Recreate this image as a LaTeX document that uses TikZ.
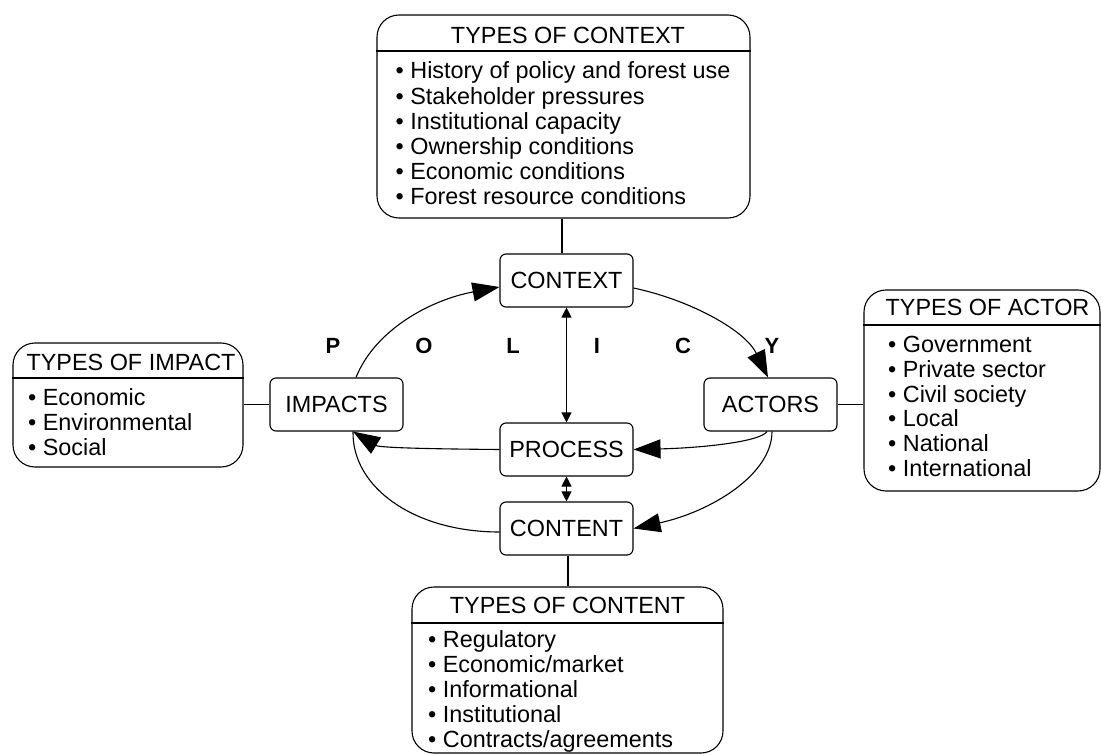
\documentclass[tikz,border=0pt]{standalone}
\usepackage{fontspec}
\setmainfont{Liberation Sans}
\usetikzlibrary{arrows.meta}
\begin{document}
\begin{tikzpicture}[x=1pt,y=-1pt,
  every node/.style={inner sep=0pt, font=\fontsize{23.4}{25}\selectfont},
  bigbox/.style={draw, line width=1.1pt, rounded corners=22pt},
  smallbox/.style={draw, line width=1.1pt, rounded corners=6pt, minimum width=133pt, minimum height=53pt},
  itemtext/.style={anchor=base west},
  headtext/.style={anchor=base},
  conn/.style={line width=1.1pt},
  bigarrow/.style={line width=1.1pt, -{Triangle[length=27pt,width=19pt]}},
  dblarrow/.style={line width=1.1pt, {Triangle[length=10pt,width=10pt]}-{Triangle[length=10pt,width=10pt]}},
  letter/.style={font=\fontsize{22}{26}\selectfont\bfseries}
]
\useasboundingbox (0,0) rectangle (1101,754);

% big boxes
\node[bigbox, minimum width=373pt, minimum height=203pt] (tctx) at (563.5,116.5) {};
\node[bigbox, minimum width=230pt, minimum height=124pt] (timp) at (128,405) {};
\node[bigbox, minimum width=236pt, minimum height=201pt] (tact) at (982,390.5) {};
\node[bigbox, minimum width=311pt, minimum height=166pt] (tcnt) at (567.5,670) {};

\coordinate (hctx) at (0,51);
\coordinate (himp) at (0,378);
\coordinate (hact) at (0,325);
\coordinate (hcnt) at (0,623);
\draw[conn] (tctx.west |- hctx) -- (tctx.east |- hctx);
\draw[conn] (timp.west |- himp) -- (timp.east |- himp);
\draw[conn] (tact.west |- hact) -- (tact.east |- hact);
\draw[conn] (tcnt.west |- hcnt) -- (tcnt.east |- hcnt);

% headers
\node[headtext] (hdctx) at (568,43.3) {TYPES OF CONTEXT};
\node[headtext] (hdimp) at (131,370) {TYPES OF IMPACT};
\node[headtext] (hdact) at (987.5,316) {TYPES OF ACTOR};
\node[headtext] (hdcnt) at (567.5,613.3) {TYPES OF CONTENT};

% items
\foreach \t [count=\i from 0] in {History of policy and forest use, Stakeholder pressures, Institutional capacity, Ownership conditions, Economic conditions, Forest resource conditions}
  \node[itemtext] (ictx\i) at (395.5,79+25.2*\i) {• \t};
\foreach \t [count=\i from 0] in {Economic, Environmental, Social}
  \node[itemtext] (iimp\i) at (28,405+25*\i) {• \t};
\foreach \t [count=\i from 0] in {Government, Private sector, Civil society, Local, National, International}
  \node[itemtext] (iact\i) at (888,352.7+24.7*\i) {• \t};
\foreach \t [count=\i from 0] in {Regulatory, Economic/market, Informational, Institutional, Contracts/agreements}
  \node[itemtext] (icnt\i) at (428,647.3+25.1*\i) {• \t};

% small boxes
\node[smallbox] (ctx) at (566.5,280.5) {CONTEXT};
\node[smallbox] (proc) at (566.5,449.5) {PROCESS};
\node[smallbox] (cont) at (566.5,528.5) {CONTENT};
\node[smallbox] (impacts) at (336.5,404.5) {IMPACTS};
\node[smallbox] (actors) at (770.5,404.5) {ACTORS};

% connecting lines
\draw[conn] ([xshift=-4.5pt]ctx.north) -- ([xshift=-4.5pt]ctx.north |- tctx.south);
\draw[conn] ([xshift=1.5pt]cont.south) -- ([xshift=1.5pt]cont.south |- tcnt.north);
\draw[conn] (impacts.west) -- (impacts.west -| timp.east);
\draw[conn] (actors.east) -- (actors.east -| tact.west);

% cycle arrows
\draw[bigarrow] ([xshift=19.5pt]impacts.north) .. controls (375,330) and (430,300) .. ([yshift=-6.5pt]ctx.west);
\draw[bigarrow] ([yshift=-7.5pt]ctx.east) .. controls (690,300) and (745,330) .. ([xshift=-2.5pt]actors.north);
\draw[bigarrow] ([xshift=-3.5pt]actors.south) .. controls (760,442) and (700,448) .. (proc.east);
\draw[bigarrow] ([xshift=1.5pt]actors.south) .. controls (772,475) and (710,512) .. (cont.east);
\draw[bigarrow] (proc.west) .. controls (440,449) and (380,448) .. ([xshift=16.5pt]impacts.south);
\draw[conn] ([yshift=-3.5pt]cont.west) .. controls (415,532) and (352,488) .. ([xshift=16.5pt]impacts.south);

\draw[dblarrow] (ctx.south) -- (proc.north);
\draw[dblarrow] (proc.south) -- (cont.north);

% POLICY letters
\node[letter] (lp) at (333,345.5) {P};
\node[letter] (lo) at (424,345.5) {O};
\node[letter] (ll) at (513,345.5) {L};
\node[letter] (li) at (597,345.5) {I};
\node[letter] (lc) at (683,345.5) {C};
\node[letter] (ly) at (772,345.5) {Y};
\end{tikzpicture}
\end{document}
